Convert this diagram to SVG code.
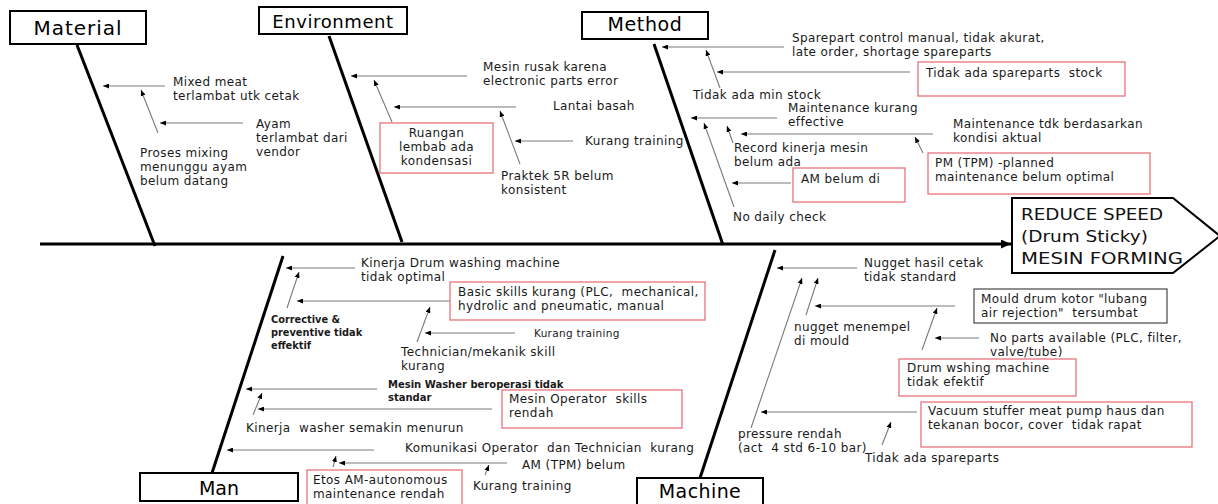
<svg xmlns="http://www.w3.org/2000/svg" width="1218" height="504" viewBox="0 0 1218 504">
  <defs>
    <marker id="tip" markerUnits="userSpaceOnUse" markerWidth="7" markerHeight="5" refX="6" refY="2.5" orient="auto">
      <path d="M0,0 L6,2.5 L0,5 z" fill="#000"/>
    </marker>
    <marker id="spineTip" markerUnits="userSpaceOnUse" markerWidth="11" markerHeight="9" refX="10" refY="4.5" orient="auto">
      <path d="M0,0 L10,4.5 L0,9 z" fill="#000"/>
    </marker>
    <style>
      .t { font-family: "DejaVu Sans", sans-serif; font-size: 12px; letter-spacing: 0.4px; fill: #1a1a1a; white-space: pre; }
      .sm { font-size: 10.5px; letter-spacing: 0.3px; }
      .b { font-family: "DejaVu Sans", sans-serif; font-weight: bold; font-size: 9.8px; fill: #1a1a1a; white-space: pre; }
      .h { font-family: "DejaVu Sans", sans-serif; font-size: 19px; fill: #000; text-anchor: middle; }
      .cat { fill: #fff; stroke: #000; stroke-width: 2; }
      .red { fill: none; stroke: #e8737b; stroke-width: 1.3; }
      .grey { fill: none; stroke: #555; stroke-width: 1.3; }
      .bone { stroke: #000; stroke-width: 3; fill: none; }
      .arr { stroke: #7a7a7a; stroke-width: 1.1; fill: none; marker-end: url(#tip); }
      .hd { font-family: "DejaVu Sans", sans-serif; font-size: 16px; fill: #111; }
    </style>
  </defs>
  <rect width="1218" height="504" fill="#fff"/>

  <!-- spine, bones and cause arrows -->
  <g id="connectors">
    <line class="bone" x1="40" y1="244" x2="1011" y2="244" marker-end="url(#spineTip)"/>
    <line class="bone" x1="77" y1="45" x2="155" y2="246"/>
    <line class="bone" x1="329" y1="36" x2="402" y2="242"/>
    <line class="bone" x1="654" y1="44" x2="723" y2="245"/>
    <line class="bone" x1="283" y1="256" x2="212" y2="473"/>
    <line class="bone" x1="775" y1="250" x2="700" y2="478"/>

    <!-- material -->
    <line class="arr" x1="165" y1="86" x2="103" y2="86"/>
    <line class="arr" x1="158" y1="133" x2="141" y2="90"/>
    <line class="arr" x1="243" y1="123" x2="160" y2="123"/>
    <!-- environment -->
    <line class="arr" x1="467" y1="76" x2="351" y2="76"/>
    <line class="arr" x1="392" y1="122" x2="374" y2="80"/>
    <line class="arr" x1="516" y1="107" x2="394" y2="107"/>
    <line class="arr" x1="520" y1="164" x2="500" y2="111"/>
    <line class="arr" x1="573" y1="141" x2="515" y2="141"/>
    <!-- method -->
    <line class="arr" x1="784" y1="47" x2="662" y2="47"/>
    <line class="arr" x1="720" y1="88" x2="706" y2="50"/>
    <line class="arr" x1="910" y1="72" x2="717" y2="72"/>
    <line class="arr" x1="777" y1="118" x2="691" y2="118"/>
    <line class="arr" x1="933" y1="134" x2="741" y2="134"/>
    <line class="arr" x1="923" y1="153" x2="915" y2="137"/>
    <line class="arr" x1="733" y1="143" x2="727" y2="126"/>
    <line class="arr" x1="734" y1="207" x2="704" y2="123"/>
    <line class="arr" x1="791" y1="183" x2="732" y2="183"/>
    <!-- man -->
    <line class="arr" x1="355" y1="268" x2="286" y2="268"/>
    <line class="arr" x1="287" y1="308" x2="299" y2="272"/>
    <line class="arr" x1="450" y1="301" x2="297" y2="301"/>
    <line class="arr" x1="417" y1="342" x2="430" y2="307"/>
    <line class="arr" x1="515" y1="333" x2="425" y2="333"/>
    <line class="arr" x1="377" y1="389" x2="246" y2="389"/>
    <line class="arr" x1="253" y1="415" x2="262" y2="393"/>
    <line class="arr" x1="492" y1="409" x2="258" y2="409"/>
    <line class="arr" x1="374" y1="450" x2="227" y2="450"/>
    <line class="arr" x1="333" y1="467" x2="336" y2="456"/>
    <line class="arr" x1="507" y1="463" x2="339" y2="463"/>
    <line class="arr" x1="485" y1="475" x2="489" y2="465"/>
    <!-- machine -->
    <line class="arr" x1="857" y1="268" x2="777" y2="268"/>
    <line class="arr" x1="751" y1="428" x2="802" y2="278"/>
    <line class="arr" x1="806" y1="315" x2="818" y2="278"/>
    <line class="arr" x1="955" y1="306" x2="815" y2="306"/>
    <line class="arr" x1="922" y1="350" x2="937" y2="308"/>
    <line class="arr" x1="979" y1="338" x2="935" y2="338"/>
    <line class="arr" x1="917" y1="412" x2="761" y2="412"/>
    <line class="arr" x1="882" y1="445" x2="891" y2="422"/>
  </g>

  <!-- effect -->
  <g id="head">
    <polygon points="1012,198 1173,198 1220,236 1173,273 1012,273" fill="#fff" stroke="#000" stroke-width="2"/>
    <text class="hd" x="1021" y="220" textLength="142" lengthAdjust="spacingAndGlyphs">REDUCE SPEED</text>
    <text class="hd" x="1021" y="242" textLength="127" lengthAdjust="spacingAndGlyphs">(Drum Sticky)</text>
    <text class="hd" x="1021" y="264" textLength="162" lengthAdjust="spacingAndGlyphs">MESIN FORMING</text>
  </g>

  <!-- category headers -->
  <g id="material">
    <rect class="cat" x="10" y="11" width="136" height="33"/>
    <text class="h" x="78" y="35" style="font-size:20px;letter-spacing:1px">Material</text>
  </g>
  <g id="environment">
    <rect class="cat" x="259" y="7" width="148" height="27"/>
    <text class="h" x="333" y="27.5" style="font-size:18px;letter-spacing:0.6px">Environment</text>
  </g>
  <g id="method">
    <rect class="cat" x="582" y="12" width="126" height="27"/>
    <text class="h" x="645" y="31" style="letter-spacing:0.6px">Method</text>
  </g>
  <g id="man">
    <rect class="cat" x="140" y="473" width="158" height="28"/>
    <text class="h" x="219" y="495">Man</text>
  </g>
  <g id="machine">
    <rect class="cat" x="637" y="478" width="126" height="30"/>
    <text class="h" x="700" y="498" style="letter-spacing:0.4px">Machine</text>
  </g>

  <!-- material causes -->
  <g id="material-causes">
    <text class="t" x="173" y="86">Mixed meat<tspan x="173" dy="14">terlambat utk cetak</tspan></text>
    <text class="t" x="256" y="128">Ayam<tspan x="256" dy="14">terlambat dari</tspan><tspan x="256" dy="14">vendor</tspan></text>
    <text class="t" x="140" y="157">Proses mixing<tspan x="140" dy="14">menunggu ayam</tspan><tspan x="140" dy="14">belum datang</tspan></text>
  </g>

  <!-- environment causes -->
  <g id="environment-causes">
    <text class="t" x="483" y="71">Mesin rusak karena<tspan x="483" dy="14">electronic parts error</tspan></text>
    <text class="t" x="553" y="110">Lantai basah</text>
    <rect class="red" x="380" y="123" width="113" height="50"/>
    <text class="t" x="436.5" y="137" text-anchor="middle">Ruangan<tspan x="436.5" dy="14">lembab ada</tspan><tspan x="436.5" dy="14">kondensasi</tspan></text>
    <text class="t" x="585" y="145">Kurang training</text>
    <text class="t" x="501" y="180">Praktek 5R belum<tspan x="501" dy="14">konsistent</tspan></text>
  </g>

  <!-- method causes -->
  <g id="method-causes">
    <text class="t" x="792" y="42">Sparepart control manual, tidak akurat,<tspan x="792" dy="14">late order, shortage spareparts</tspan></text>
    <rect class="red" x="918" y="62" width="207" height="34"/>
    <text class="t" x="926" y="77">Tidak ada spareparts  stock</text>
    <text class="t" x="693" y="99">Tidak ada min stock</text>
    <text class="t" x="788" y="112">Maintenance kurang<tspan x="788" dy="14">effective</tspan></text>
    <text class="t" x="953" y="128">Maintenance tdk berdasarkan<tspan x="953" dy="14">kondisi aktual</tspan></text>
    <rect class="red" x="928" y="153" width="222" height="41"/>
    <text class="t" x="935" y="167">PM (TPM) -planned<tspan x="935" dy="14">maintenance belum optimal</tspan></text>
    <text class="t" x="734" y="152">Record kinerja mesin<tspan x="734" dy="14">belum ada</tspan></text>
    <rect class="red" x="793" y="168" width="112" height="34"/>
    <text class="t" x="801" y="183">AM belum di</text>
    <text class="t" x="733" y="221">No daily check</text>
  </g>

  <!-- man causes -->
  <g id="man-causes">
    <text class="t" x="361" y="267">Kinerja Drum washing machine<tspan x="361" dy="14">tidak optimal</tspan></text>
    <rect class="red" x="450" y="282" width="255" height="38"/>
    <text class="t" x="458" y="296">Basic skills kurang (PLC,  mechanical,<tspan x="458" dy="14">hydrolic and pneumatic, manual</tspan></text>
    <text class="b" x="271" y="323">Corrective &amp;<tspan x="271" dy="13">preventive tidak</tspan><tspan x="271" dy="13">effektif</tspan></text>
    <text class="t sm" x="534" y="337">Kurang training</text>
    <text class="t" x="401" y="356">Technician/mekanik skill<tspan x="401" dy="14">kurang</tspan></text>
    <text class="b" x="388" y="388" style="font-size:10px">Mesin Washer beroperasi tidak<tspan x="388" dy="13">standar</tspan></text>
    <rect class="red" x="502" y="390" width="180" height="38"/>
    <text class="t" x="509" y="403">Mesin Operator  skills<tspan x="509" dy="14">rendah</tspan></text>
    <text class="t" x="246" y="432">Kinerja  washer semakin menurun</text>
    <text class="t" x="405" y="452">Komunikasi Operator  dan Technician  kurang</text>
    <text class="t" x="522" y="469">AM (TPM) belum</text>
    <rect class="red" x="307" y="470" width="155" height="40"/>
    <text class="t" x="313" y="484">Etos AM-autonomous<tspan x="313" dy="14">maintenance rendah</tspan></text>
    <text class="t" x="473" y="490">Kurang training</text>
  </g>

  <!-- machine causes -->
  <g id="machine-causes">
    <text class="t" x="864" y="267">Nugget hasil cetak<tspan x="864" dy="14">tidak standard</tspan></text>
    <rect class="grey" x="974" y="289" width="193" height="34"/>
    <text class="t" x="981" y="303">Mould drum kotor "lubang<tspan x="981" dy="14">air rejection"  tersumbat</tspan></text>
    <text class="t" x="794" y="331">nugget menempel<tspan x="794" dy="14">di mould</tspan></text>
    <text class="t" x="990" y="342">No parts available (PLC, filter,<tspan x="990" dy="14">valve/tube)</tspan></text>
    <rect class="red" x="899" y="359" width="177" height="37"/>
    <text class="t" x="907" y="372">Drum wshing machine<tspan x="907" dy="14">tidak efektif</tspan></text>
    <rect class="red" x="921" y="402" width="271" height="45"/>
    <text class="t" x="928" y="415">Vacuum stuffer meat pump haus dan<tspan x="928" dy="14">tekanan bocor, cover  tidak rapat</tspan></text>
    <text class="t" x="738" y="438">pressure rendah<tspan x="738" dy="14">(act  4 std 6-10 bar)</tspan></text>
    <text class="t" x="865" y="462">Tidak ada spareparts</text>
  </g>
</svg>
